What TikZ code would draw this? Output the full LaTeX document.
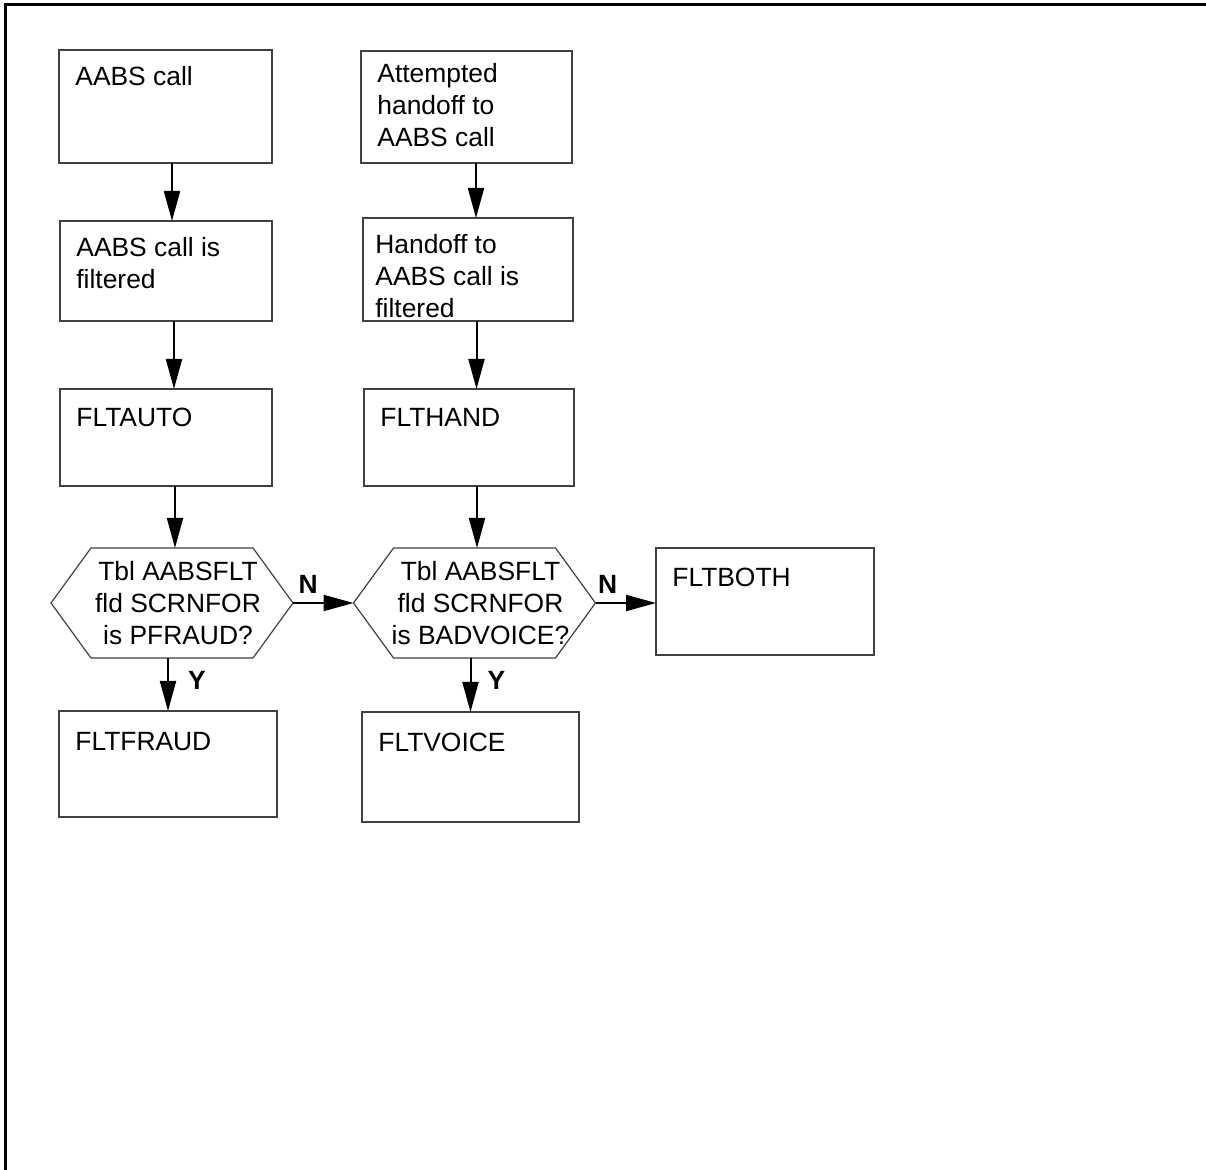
\documentclass[tikz,border=0pt]{standalone}
\usepackage{fontspec}
\setmainfont{Liberation Sans}
\usetikzlibrary{arrows.meta}

\tikzset{
  stepbox/.style={draw=black!75, line width=0.6pt, rectangle, anchor=north west, inner sep=0pt, outer sep=0pt},
  boxtext/.style={anchor=north west, align=left, inner sep=0pt, xshift=8pt, yshift=-8pt, font=\fontsize{13.2}{16}\selectfont},
  hexline/.style={draw=black!75, line width=0.6pt, line join=miter},
  decision/.style={rectangle, minimum width=121pt, minimum height=55pt, inner sep=0pt, outer sep=0pt, align=center, font=\fontsize{13.2}{16}\selectfont,
    append after command={\pgfextra{\draw[hexline] (\tikzlastnode.west) -- ([xshift=20pt]\tikzlastnode.north west) -- ([xshift=-20pt]\tikzlastnode.north east) -- (\tikzlastnode.east) -- ([xshift=-20pt]\tikzlastnode.south east) -- ([xshift=20pt]\tikzlastnode.south west) -- cycle;}}},
  flow/.style={line width=1pt, -{Triangle[length=15pt,width=8pt]}},
  yn/.style={font=\fontsize{13.2}{16}\selectfont\bfseries, inner sep=0pt}
}

\begin{document}
\begin{tikzpicture}[x=0.5pt,y=-0.5pt]
  \useasboundingbox (0,0) rectangle (1206,1170);
  % frame
  \draw[line width=1.5pt] (5.5,1170) -- (5.5,4.5) -- (1206,4.5);

  % left column
  \node[stepbox, minimum width=106.5pt, minimum height=56.5pt, label={[boxtext]north west:AABS call}] (call) at (59,50) {};
  \node[stepbox, minimum width=106pt, minimum height=50pt, label={[boxtext]north west:AABS call is\\filtered}] (callflt) at (60,221) {};
  \node[stepbox, minimum width=106pt, minimum height=48.5pt, label={[boxtext,yshift=-1.5pt]north west:FLTAUTO}] (fltauto) at (60,389) {};
  \node[decision] (pfraud) at (172,603) {\hspace*{6pt}Tbl AABSFLT\\\hspace*{6pt}fld SCRNFOR\\\hspace*{6pt}is PFRAUD?};
  \node[stepbox, minimum width=109pt, minimum height=53pt, label={[boxtext,yshift=-2.5pt]north west:FLTFRAUD}] (fltfraud) at (59,711) {};

  % right column
  \node[stepbox, minimum width=105.5pt, minimum height=56pt, label={[boxtext,yshift=2pt]north west:Attempted\\handoff to\\AABS call}] (attempt) at (361,51) {};
  \node[stepbox, minimum width=105pt, minimum height=51.5pt, label={[boxtext,xshift=-2pt]north west:Handoff to\\AABS call is\\filtered}] (hand) at (363,218) {};
  \node[stepbox, minimum width=105pt, minimum height=48.5pt, label={[boxtext,yshift=-1.5pt]north west:FLTHAND}] (flthand) at (364,389) {};
  \node[decision] (badvoice) at (474.5,603) {\hspace*{6pt}Tbl AABSFLT\\\hspace*{6pt}fld SCRNFOR\\\hspace*{6pt}is BADVOICE?};
  \node[stepbox, minimum width=108.5pt, minimum height=55pt, label={[boxtext,yshift=-2.5pt]north west:FLTVOICE}] (fltvoice) at (362,712) {};
  \node[stepbox, minimum width=109pt, minimum height=53.5pt, label={[boxtext,yshift=-2pt]north west:FLTBOTH}] (fltboth) at (656,548) {};

  % connectors
  \draw[flow] ([xshift=3.25pt]call.south) -- ([xshift=3.25pt]call.south |- callflt.north);
  \draw[flow] ([xshift=4pt]callflt.south) -- ([xshift=4pt]callflt.south |- fltauto.north);
  \draw[flow] ([xshift=1.5pt]fltauto.south -| pfraud.north) -- ([xshift=1.5pt]pfraud.north);
  \draw[flow] (pfraud.south -| fltfraud.north) -- (fltfraud.north) node[yn, right=9.5pt, pos=0.42] (y1) {Y};
  \draw[flow] (pfraud.east) -- (badvoice.west) node[yn, above=4pt, pos=0.25] (n1) {N};

  \draw[flow] ([xshift=4.75pt]attempt.south) -- ([xshift=4.75pt]attempt.south |- hand.north);
  \draw[flow] ([xshift=4.25pt]hand.south) -- ([xshift=4.25pt]hand.south |- flthand.north);
  \draw[flow] ([xshift=1.25pt]flthand.south -| badvoice.north) -- ([xshift=1.25pt]badvoice.north);
  \draw[flow] (badvoice.south -| fltvoice.north) -- (fltvoice.north) node[yn, right=8pt, pos=0.42] (y2) {Y};
  \draw[flow] (badvoice.east) -- (badvoice.east -| fltboth.west) node[yn, above=4pt, pos=0.2] (n2) {N};
\end{tikzpicture}
\end{document}
